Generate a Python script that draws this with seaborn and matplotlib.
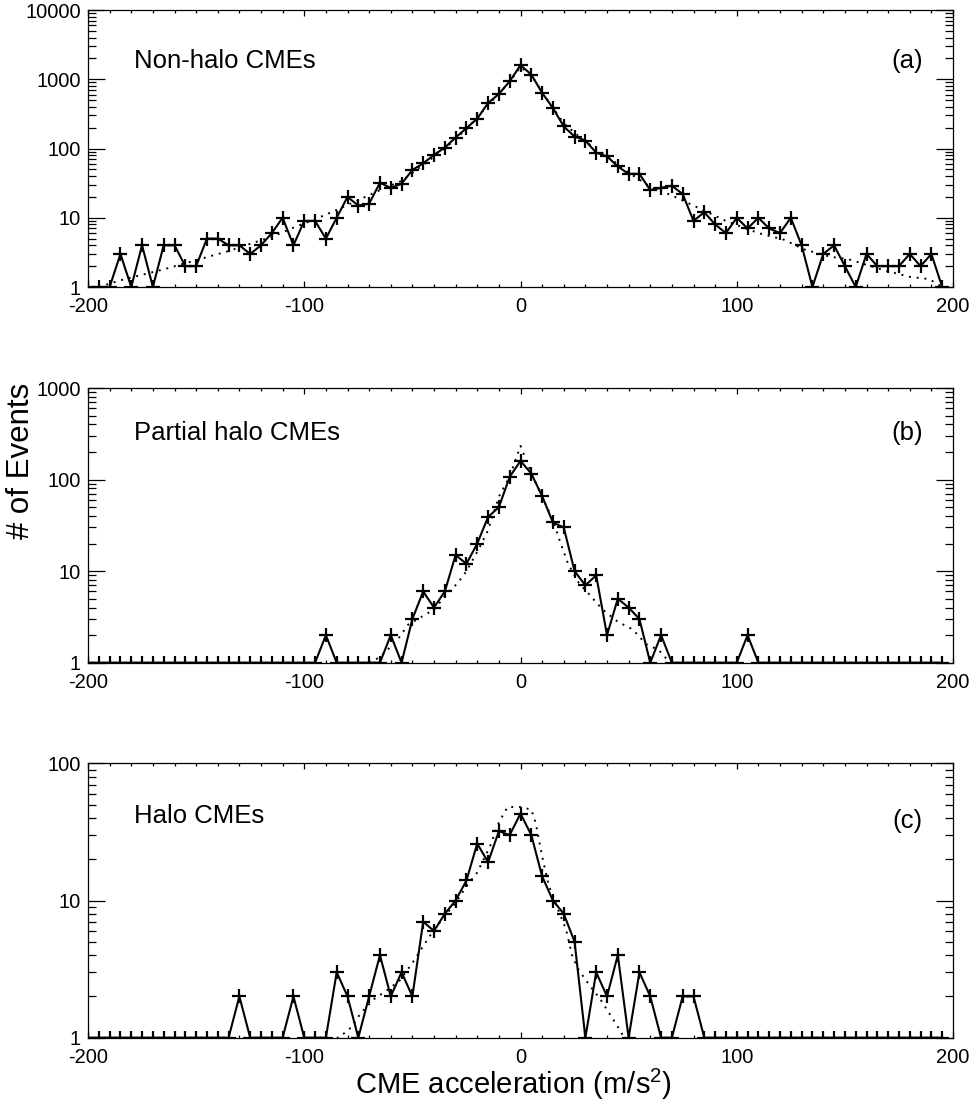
import numpy as np
import pandas as pd
import matplotlib
matplotlib.use("Agg")
import matplotlib.pyplot as plt
import matplotlib.ticker as mticker
import seaborn as sns

# ---------------- data ----------------
# bin positions (m/s^2), 5 m/s^2 bins
accel = list(range(-200, 200, 5))

# counts (bins at the floor plotted as 1)
counts_nonhalo = [1, 1, 1, 3, 1, 4, 1, 4, 4, 2, 2, 5, 5, 4, 4, 3, 4, 6, 10, 4,
                  9, 9, 5, 10, 20, 15, 16, 32, 27, 31, 49, 61, 81, 103, 144, 197, 270, 454, 613, 935,
                  1596, 1169, 636, 384, 208, 149, 130, 87, 77, 55, 43, 43, 25, 27, 29, 22, 9, 12, 8, 6,
                  10, 7, 10, 7, 6, 10, 4, 1, 3, 4, 2, 1, 3, 2, 2, 2, 3, 2, 3, 1]

counts_partial = [1, 1, 1, 1, 1, 1, 1, 1, 1, 1, 1, 1, 1, 1, 1, 1, 1, 1, 1, 1,
                  1, 1, 2, 1, 1, 1, 1, 1, 2, 1, 3, 6, 4, 6, 15, 12, 20, 39, 50, 107,
                  160, 116, 66, 34, 30, 10, 7, 9, 2, 5, 4, 3, 1, 2, 1, 1, 1, 1, 1, 1,
                  1, 2, 1, 1, 1, 1, 1, 1, 1, 1, 1, 1, 1, 1, 1, 1, 1, 1, 1, 1]

counts_halo = [1, 1, 1, 1, 1, 1, 1, 1, 1, 1, 1, 1, 1, 1, 2, 1, 1, 1, 1, 2,
               1, 1, 1, 3, 2, 1, 2, 4, 2, 3, 2, 7, 6, 8, 10, 14, 26, 19, 32, 30,
               43, 30, 15, 10, 8, 5, 1, 3, 2, 4, 1, 3, 2, 1, 1, 2, 2, 1, 1, 1,
               1, 1, 1, 1, 1, 1, 1, 1, 1, 1, 1, 1, 1, 1, 1, 1, 1, 1, 1, 1]

# model curves (dotted)
fit_x_nonhalo = [-195, -185, -175, -165, -155, -145, -135, -125, -115, -105, -95, -85, -75, -65,
                 -55, -45, -35, -25, -15, -5, 0, 5, 10, 20, 30, 40, 50, 60, 70, 82, 95, 110,
                 122, 131, 143, 152, 168, 180, 189, 195]
fit_nonhalo = [1.0, 1.25, 1.5, 1.8, 2.2, 2.7, 3.3, 4.2, 5.3, 7.2, 9.5, 13, 18, 25,
               34, 58, 100, 190, 420, 920, 1500, 1150, 650, 230, 125, 78, 45, 28, 21, 14, 9, 6,
               4.8, 3.5, 2.75, 2.5, 1.75, 1.4, 1.3, 1.0]

fit_x_partial = [-70, -65, -60, -56, -52, -47, -40, -34, -29, -25, -19, -15, -10, -5, 0,
                 5, 10, 15, 18, 22, 27, 32, 38, 45, 52, 58, 64, 68, 70]
fit_partial = [1.0, 1.15, 1.5, 1.9, 2.6, 3.05, 3.8, 5.7, 7.4, 10, 18, 28, 65, 108, 233,
               117, 65, 36, 22, 12, 7.4, 5.5, 3.8, 2.8, 2.3, 1.6, 1.37, 1.07, 1.0]

fit_x_halo = [-85, -84, -78, -74, -68, -62, -56, -50, -46, -41, -35, -30, -25, -20, -14, -10,
              -6, 0, 5, 7, 10, 13, 18, 21, 24, 27, 32, 37, 40, 45, 48]
fit_halo = [1.0, 1.0, 1.2, 1.5, 1.9, 2.2, 2.6, 3.5, 4.4, 5.8, 7.7, 9.6, 12.7, 16, 25, 37,
            48, 48, 46, 37, 21, 13, 8.1, 6.2, 3.9, 3.1, 2.4, 1.9, 1.6, 1.2, 1.0]

panel_names = ["Non-halo CMEs", "Partial halo CMEs", "Halo CMEs"]
panel_tags = ["(a)", "(b)", "(c)"]
y_max = [10000, 1000, 100]
y_ticks = [[1, 10, 100, 1000, 10000], [1, 10, 100, 1000], [1, 10, 100]]
x_ticks = [-200, -100, 0, 100, 200]

# ---------------- plot ----------------
sns.set_style("ticks")
plt.rcParams["font.family"] = ["Liberation Sans", "DejaVu Sans"]
plt.rcParams["mathtext.fontset"] = "custom"
plt.rcParams["mathtext.rm"] = "Liberation Sans"
plt.rcParams["text.color"] = "black"
plt.rcParams["axes.labelcolor"] = "black"
plt.rcParams["xtick.color"] = "black"
plt.rcParams["ytick.color"] = "black"
plt.rcParams["axes.edgecolor"] = "black"

W, H = 974, 1102
fig = plt.figure(figsize=(W / 100, H / 100), dpi=100)

# axes boxes in pixels: (left, top, right, bottom)
boxes = [(88, 10, 953, 287), (88, 388, 953, 662.7), (88, 763.3, 953, 1037.7)]
series = [
    (counts_nonhalo, fit_x_nonhalo, fit_nonhalo),
    (counts_partial, fit_x_partial, fit_partial),
    (counts_halo, fit_x_halo, fit_halo),
]
label_y = [0.79, 0.81, 0.783]
tag_y = [0.79, 0.81, 0.765]

for i, (box, (cnt, fx, fy)) in enumerate(zip(boxes, series)):
    l, t, r, b = box
    ax = fig.add_axes([l / W, 1 - b / H, (r - l) / W, (b - t) / H])
    df = pd.DataFrame({"accel": accel, "count": cnt})
    dfit = pd.DataFrame({"accel": fx, "model": fy})
    sns.lineplot(data=dfit, x="accel", y="model", ax=ax, color="black",
                 linewidth=1.4, linestyle=(0, (1, 3)), estimator=None, sort=False)
    sns.lineplot(data=df, x="accel", y="count", ax=ax, color="black",
                 linewidth=1.5, marker="+", markersize=10, markeredgewidth=1.6,
                 markeredgecolor="black", estimator=None, sort=False)
    ax.set_yscale("log")
    ax.set_xlim(-200, 200)
    ax.set_ylim(1, y_max[i])
    ax.set_xlabel("")
    ax.set_ylabel("")
    ax.set_xticks(x_ticks)
    ax.set_xticklabels([str(v) for v in x_ticks])
    ax.xaxis.set_minor_locator(mticker.MultipleLocator(10))
    ax.set_yticks(y_ticks[i])
    ax.set_yticklabels([str(v) for v in y_ticks[i]], va="center_baseline")
    ax.yaxis.set_minor_locator(mticker.LogLocator(base=10, subs=np.arange(2, 10)))
    ax.yaxis.set_minor_formatter(mticker.NullFormatter())
    ax.tick_params(axis="both", which="both", direction="in", top=True, right=True,
                   colors="black", labelcolor="black", width=0.9, labelsize=14.5)
    ax.tick_params(axis="x", which="major", length=4.3, pad=7.5)
    ax.tick_params(axis="x", which="minor", length=2.4)
    ax.tick_params(axis="y", which="major", length=12, pad=5)
    ax.tick_params(axis="y", which="minor", length=6)
    for s in ax.spines.values():
        s.set_linewidth(0.9)
        s.set_color("black")
    ax.text(0.053, label_y[i], panel_names[i], transform=ax.transAxes,
            fontsize=18.5, ha="left", va="baseline", color="black")
    ax.text(0.965, tag_y[i], panel_tags[i], transform=ax.transAxes,
            fontsize=18.5, ha="right", va="baseline", color="black")

fig.text(0.022, 0.582, "# of Events", rotation=90, ha="center", va="center",
         fontsize=22.5, color="black")
fig.text(0.527, 1 - 1094 / H, r"CME acceleration (m/s$^2$)", ha="center", va="baseline",
         fontsize=21, color="black")

fig.savefig("out.png", dpi=100, facecolor="white")
